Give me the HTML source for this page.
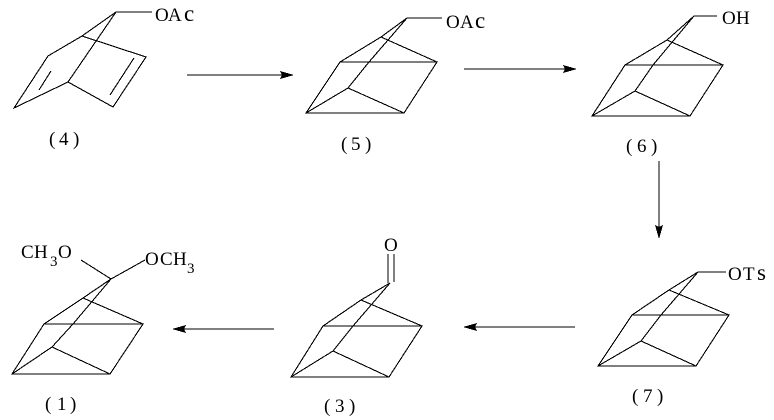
<!DOCTYPE html>
<html><head><meta charset="utf-8"><style>
html,body{margin:0;padding:0;background:#fff;width:774px;height:420px;overflow:hidden}
svg{display:block}
.l path{fill:none;stroke:#000;stroke-width:1.1;shape-rendering:crispEdges}
.a path{fill:#000;stroke:none;shape-rendering:crispEdges}
text{font-family:"Liberation Serif",serif;font-size:19px;fill:#000;stroke:none}
.s{font-size:15px}
.b{font-size:23px}
</style></head><body>
<svg width="774" height="420" viewBox="0 0 774 420" xmlns="http://www.w3.org/2000/svg">
<g class="l">
<path d="M152 12H116L82 36L48 56L14 108L68 82L116 12M82 36L146 57L113 107L68 82M134 58L110 95M51 71L39 90"/>
<path d="M442 18H407L381 37L340 62L306 113H404L437 62H340M381 37L437 62M306 113L348 88L404 113M348 88L369 62L407 18"/>
<path d="M717 16H694L667 40L625 65L592 116H690L723 65H625M667 40L723 65M592 116L635 91L690 116M635 91L653 65L694 16"/>
<path d="M726 272H698L669 290L632 315L598 366H696L729 315H632M669 290L729 315M598 366L641 341L696 366M641 341L661 315L698 272"/>
<path d="M388 283V254M394 282V254M390 283L361 300L323 326L291 377H389L422 326H323M361 300L422 326M291 377L333 351L389 377M333 351L353 326L390 283"/>
<path d="M145 260L111 279L83 298L44 324L12 374H110L143 324H44M83 298L143 324M12 374L52 347L110 374M52 347L73 324L111 279M81 260L111 279"/>
<path d="M187 75H282M464 69H565M659 161V227M274 329H184M575 327H475"/>
</g>
<g class="a">
<path d="M294 75L280 71L282 75L280 79Z"/>
<path d="M577 69L563 65L565 69L563 73Z"/>
<path d="M659 239L655 225L659 227L663 225Z"/>
<path d="M172 329L186 325L184 329L186 333Z"/>
<path d="M463 327L477 323L475 327L477 331Z"/>
</g>
<text x="155 168" y="21">OA</text><text class="b" x="184" y="21">c</text>
<text x="446 460" y="28">OA</text><text class="b" x="475" y="28">c</text>
<text x="722 736" y="24">OH</text>
<text x="728 743" y="280">OT</text><text class="b" x="757" y="280">s</text>
<text x="384" y="251">O</text>
<text x="21 34" y="258">CH</text>
<text class="s" x="50" y="266">3</text>
<text x="58" y="258">O</text>
<text x="145 160 173" y="265">OCH</text>
<text class="s" x="187" y="273">3</text>
<text x="49 59 73" y="145">(4)</text>
<text x="341 351 365" y="150">(5)</text>
<text x="626 637 651" y="152">(6)</text>
<text x="632 643 657" y="402">(7)</text>
<text x="324 335 349" y="412">(3)</text>
<text x="45 57 70" y="410">(1)</text>
</svg>
</body></html>
